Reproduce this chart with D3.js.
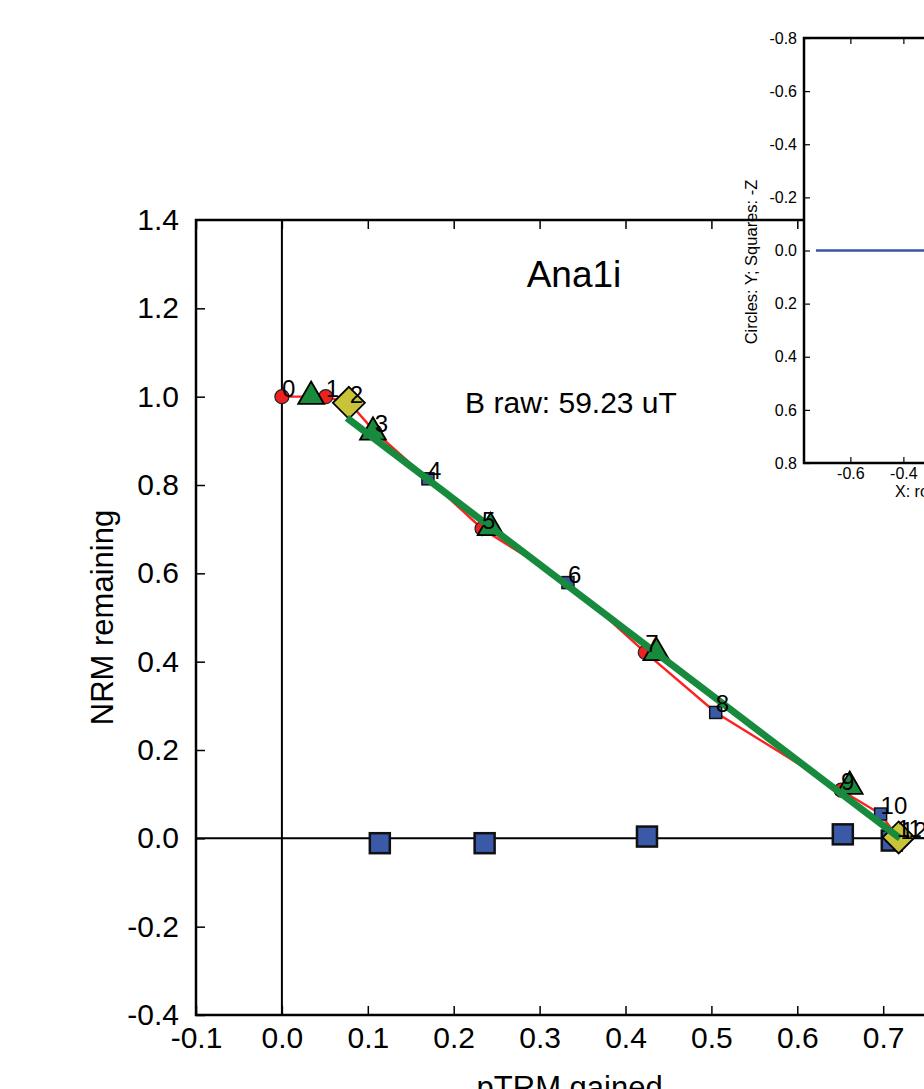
<!DOCTYPE html>
<html>
<head>
<meta charset="utf-8">
<script src="https://cdn.jsdelivr.net/npm/d3@7"></script>
<style>
body { margin: 0; overflow: hidden; background: #fff; }
svg { display: block; font-family: "Liberation Sans", Arial, sans-serif; }
</style>
</head>
<body>
<div id="chart"></div>
<script>
var w = 924, h = 1089;

// main (Arai) plot
var xTicks = [-0.1, 0.0, 0.1, 0.2, 0.3, 0.4, 0.5, 0.6, 0.7];
var yTicks = [-0.4, -0.2, 0.0, 0.2, 0.4, 0.6, 0.8, 1.0, 1.2, 1.4];

var steps = ["0", "1", "2", "3", "4", "5", "6", "7", "8", "9", "10", "11", "12"];
var araiX = [0.000, 0.051, 0.079, 0.108, 0.170, 0.233, 0.333, 0.423, 0.505, 0.651, 0.697, 0.716, 0.720];
var araiY = [1.000, 1.000, 0.985, 0.921, 0.814, 0.701, 0.579, 0.421, 0.285, 0.109, 0.055, 0.004, -0.002];
var stepType = ["c", "c", "s", "c", "s", "c", "s", "c", "s", "c", "s", "c", "s"];

// pTRM checks
var checkX = [0.034, 0.106, 0.243, 0.436, 0.661];
var checkY = [1.005, 0.924, 0.708, 0.425, 0.122];

// pTRM tail checks
var tailX = [0.114, 0.236, 0.425, 0.653, 0.710];
var tailY = [-0.011, -0.011, 0.004, 0.009, -0.005];

// bounds of the selected interval
var boundX = [0.078, 0.718];
var boundY = [0.986, 0.002];

// best fit line
var fitX = [0.0757, 0.7195];
var fitY = [0.952, 0.000];

// inset (Zijderveld) plot
var insetXTicks = [-0.6, -0.4, -0.2, 0.0, 0.2, 0.4, 0.6];
var insetYTicks = [-0.8, -0.6, -0.4, -0.2, 0.0, 0.2, 0.4, 0.6, 0.8];
var insetLineX = [-0.73, 0.8];
var insetLineY = [0.0, 0.0];

var fmt = function (d) { return d.toFixed(1); };

var svg = d3.select("#chart").append("svg").attr("width", w).attr("height", h);

var x = d3.scaleLinear().domain([-0.1, 0.77]).range([196, 196 + 0.87 * 859]);
var y = d3.scaleLinear().domain([-0.4, 1.4]).range([1015, 220]);

var main = svg.append("g");

// zero lines
main.append("line").attr("x1", x(0)).attr("x2", x(0)).attr("y1", y(1.4)).attr("y2", y(-0.4))
  .attr("stroke", "#000").attr("stroke-width", 2);
main.append("line").attr("x1", x(-0.1)).attr("x2", x(0.77)).attr("y1", y(0)).attr("y2", y(0))
  .attr("stroke", "#000").attr("stroke-width", 2);

// axes
var ax = main.append("g").attr("transform", "translate(0," + y(-0.4) + ")")
  .call(d3.axisBottom(x).tickValues(xTicks).tickFormat(fmt).tickSize(-9).tickPadding(12));
var axTop = main.append("g").attr("transform", "translate(0," + y(1.4) + ")")
  .call(d3.axisTop(x).tickValues(xTicks).tickFormat("").tickSize(-9));
var ay = main.append("g").attr("transform", "translate(" + x(-0.1) + ",0)")
  .call(d3.axisLeft(y).tickValues(yTicks).tickFormat(fmt).tickSize(-9).tickPadding(17));
[ax, axTop, ay].forEach(function (a) {
  a.select(".domain").remove();
  a.selectAll(".tick line").attr("stroke", "#000").attr("stroke-width", 1.5);
  a.selectAll("text").attr("font-size", 30).attr("fill", "#000")
    .attr("font-family", "'Liberation Sans', Arial, sans-serif");
});
ay.selectAll(".tick").filter(function (d) { return d === 1.4; }).select("line").remove();

// spines
main.append("path")
  .attr("d", "M" + x(0.77) + "," + y(1.4) + "H" + x(-0.1) + "V" + y(-0.4) + "H" + x(0.77))
  .attr("fill", "none").attr("stroke", "#000").attr("stroke-width", 2.5);

// red Arai line
var line = d3.line().x(function (d) { return x(d[0]); }).y(function (d) { return y(d[1]); });
var arai = d3.zip(araiX, araiY, steps, stepType);
main.append("path").datum(arai).attr("d", line)
  .attr("fill", "none").attr("stroke", "#ff2020").attr("stroke-width", 2.4);

// tail checks
main.selectAll(".tail").data(d3.zip(tailX, tailY)).enter().append("rect")
  .attr("x", function (d) { return x(d[0]) - 10; })
  .attr("y", function (d) { return y(d[1]) - 10; })
  .attr("width", 20).attr("height", 20)
  .attr("fill", "#3a5aa8").attr("stroke", "#111").attr("stroke-width", 2.5);

// IZ squares and ZI circles
main.selectAll(".sq").data(arai.filter(function (d) { return d[3] === "s"; })).enter().append("rect")
  .attr("x", function (d) { return x(d[0]) - 6; })
  .attr("y", function (d) { return y(d[1]) - 6; })
  .attr("width", 12).attr("height", 12)
  .attr("fill", "#3a5aa8").attr("stroke", "#111").attr("stroke-width", 1.5);
main.selectAll(".ci").data(arai.filter(function (d) { return d[3] === "c"; })).enter().append("circle")
  .attr("cx", function (d) { return x(d[0]); })
  .attr("cy", function (d) { return y(d[1]); })
  .attr("r", 7)
  .attr("fill", "#ee2020").attr("stroke", "#222").attr("stroke-width", 1.2);

// pTRM checks
var tri = d3.symbol().type(d3.symbolTriangle).size(290);
main.selectAll(".tri").data(d3.zip(checkX, checkY)).enter().append("path")
  .attr("d", tri)
  .attr("transform", function (d) { return "translate(" + x(d[0]) + "," + (y(d[1]) + 2) + ")"; })
  .attr("fill", "#1a8a3c").attr("stroke", "#000").attr("stroke-width", 1.8);

// bounds
main.selectAll(".dia").data(d3.zip(boundX, boundY)).enter().append("path")
  .attr("d", "M0,-16L16,0L0,16L-16,0Z")
  .attr("transform", function (d) { return "translate(" + x(d[0]) + "," + y(d[1]) + ")"; })
  .attr("fill", "#c8c43a").attr("stroke", "#000").attr("stroke-width", 1.8);

// fit
main.append("path").datum(d3.zip(fitX, fitY)).attr("d", line)
  .attr("fill", "none").attr("stroke", "#178a3e").attr("stroke-width", 7);

// step labels
main.selectAll(".lab").data(arai).enter().append("text")
  .attr("x", function (d) { return x(d[0]); })
  .attr("y", function (d) { return y(d[1]); })
  .attr("font-size", 24).attr("fill", "#000")
  .text(function (d) { return d[2]; });

// titles
main.append("text").attr("x", 574).attr("y", 287).attr("text-anchor", "middle")
  .attr("font-size", 37).text("Ana1i");
main.append("text").attr("x", 571).attr("y", 413).attr("text-anchor", "middle")
  .attr("font-size", 30).text("B raw: 59.23 uT");
main.append("text").attr("transform", "translate(113," + ((y(1.4) + y(-0.4)) / 2) + ") rotate(-90)")
  .attr("text-anchor", "middle").attr("font-size", 31).text("NRM remaining");
main.append("text").attr("x", (x(-0.1) + x(0.77)) / 2).attr("y", 1098).attr("text-anchor", "middle")
  .attr("font-size", 31).text("pTRM gained");

// inset
var ix = d3.scaleLinear().domain([-0.775, 0.8]).range([804, 804 + 1.575 * 265]);
var iy = d3.scaleLinear().domain([-0.8, 0.8]).range([38, 463]);
var inset = svg.append("g");
inset.append("rect").attr("x", ix(-0.775)).attr("y", iy(-0.8))
  .attr("width", ix(0.8) - ix(-0.775)).attr("height", iy(0.8) - iy(-0.8)).attr("fill", "#fff");

inset.append("path").datum(d3.zip(insetLineX, insetLineY))
  .attr("d", d3.line().x(function (d) { return ix(d[0]); }).y(function (d) { return iy(d[1]); }))
  .attr("fill", "none").attr("stroke", "#3a55a5").attr("stroke-width", 2.5);

var iax = inset.append("g").attr("transform", "translate(0," + iy(0.8) + ")")
  .call(d3.axisBottom(ix).tickValues(insetXTicks).tickFormat(fmt).tickSize(-6).tickPadding(5));
var iaxTop = inset.append("g").attr("transform", "translate(0," + iy(-0.8) + ")")
  .call(d3.axisTop(ix).tickValues(insetXTicks).tickFormat("").tickSize(-6));
var iay = inset.append("g").attr("transform", "translate(" + ix(-0.775) + ",0)")
  .call(d3.axisLeft(iy).tickValues(insetYTicks).tickFormat(fmt).tickSize(-6).tickPadding(7));
[iax, iaxTop, iay].forEach(function (a) {
  a.select(".domain").remove();
  a.selectAll(".tick line").attr("stroke", "#000").attr("stroke-width", 1.2);
  a.selectAll("text").attr("font-size", 16).attr("fill", "#000")
    .attr("font-family", "'Liberation Sans', Arial, sans-serif");
});

inset.append("path")
  .attr("d", "M" + ix(0.8) + "," + iy(-0.8) + "H" + ix(-0.775) + "V" + iy(0.8) + "H" + ix(0.8))
  .attr("fill", "none").attr("stroke", "#000").attr("stroke-width", 2.5);

inset.append("text").attr("transform", "translate(757,262) rotate(-90)")
  .attr("text-anchor", "middle").attr("font-size", 16.5).text("Circles: Y; Squares: -Z");
inset.append("text").attr("x", 895).attr("y", 497)
  .attr("font-size", 16).text("X: rotated to NRM");
</script>
</body>
</html>
